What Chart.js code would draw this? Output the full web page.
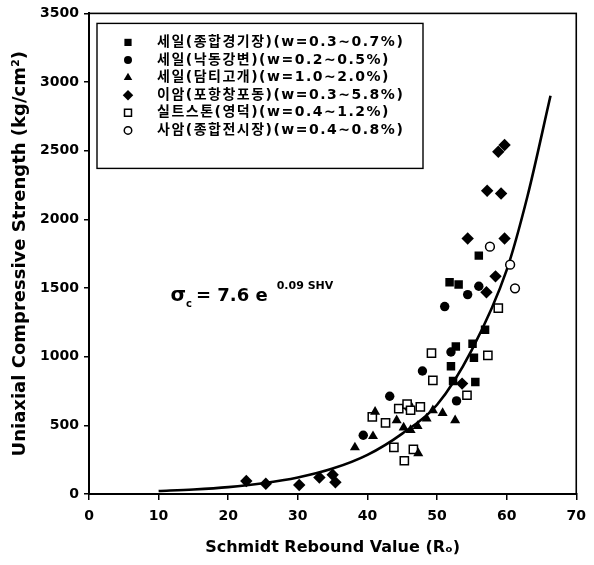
<!DOCTYPE html>
<html lang="ko">
<head>
<meta charset="UTF-8">
<title>Schmidt Rebound Value vs UCS</title>
<script src="https://cdn.jsdelivr.net/npm/chart.js"></script>
<style>
  html, body { margin: 0; padding: 0; background: #fff; }
</style>
</head>
<body>
<canvas id="chart" width="594" height="565"></canvas>
<script>
// rebound value (x) vs uniaxial compressive strength (y), kg/cm2
const shaleStadium = [[56.0,1736],[51.8,1542],[53.1,1525],[52.7,1075],[55.1,1094],[55.3,993],
                      [52.0,930],[56.9,1196],[52.3,823],[55.5,816]];
const shaleNakdong = [[54.4,1452],[51.1,1365],[56.0,1513],[52.0,1034],[47.9,896],[43.2,712],
                      [52.8,678],[39.4,428]];
const shaleDamti = [[38.2,339],[40.8,421],[41.1,598],[44.2,537],[45.2,484],[46.2,465],[47.2,494],
                    [48.5,550],[49.4,610],[50.8,590],[52.6,537],[47.3,296]];
const mudstone = [[59.7,2542],[58.8,2493],[57.2,2208],[59.2,2188],[54.4,1861],[59.7,1861],
                  [58.4,1585],[57.1,1469],[53.6,804],[22.6,95],[25.4,75],[30.2,65],[33.1,120],
                  [35.4,85],[35.0,140]];
const siltstone = [[58.8,1353],[49.2,1026],[49.4,828],[54.3,719],[57.3,1009],[44.5,622],[45.7,654],
                   [46.2,610],[47.6,634],[40.7,561],[42.6,518],[43.8,339],[46.6,325],[45.3,242]];
const sandstone = [[57.6,1801],[60.5,1670],[61.2,1498],[45.9,639]];

// fitted curve sigma_c = 7.6 e^(0.09 SHV)
const fitX = [10, 15, 20, 25, 30, 35, 40, 45, 50, 55, 60, 63, 66.3];
const fitY = [22, 33, 50, 78, 120, 185, 285, 440, 650, 1050, 1630, 2170, 2900];

const xTicks = [0, 10, 20, 30, 40, 50, 60, 70];
const yTicks = [0, 500, 1000, 1500, 2000, 2500, 3000, 3500];

const seriesLabels = [
  '세일(종합경기장)(w=0.3~0.7%)',
  '세일(낙동강변)(w=0.2~0.5%)',
  '세일(담티고개)(w=1.0~2.0%)',
  '이암(포항창포동)(w=0.3~5.8%)',
  '실트스톤(영덕)(w=0.4~1.2%)',
  '사암(종합전시장)(w=0.4~0.8%)'
];

const FONT = "'DejaVu Sans', 'Noto Sans CJK KR', sans-serif";
const toXY = arr => arr.map(p => ({ x: p[0], y: p[1] }));

function scatterSet(label, data, style, radius, filled) {
  return {
    type: 'scatter',
    label: label,
    data: toXY(data),
    pointStyle: style,
    pointRadius: radius,
    pointHoverRadius: radius,
    pointBackgroundColor: filled ? '#000' : '#fff',
    pointBorderColor: '#000',
    pointBorderWidth: filled ? 0 : 1.5
  };
}

const datasets = [
  scatterSet(seriesLabels[0], shaleStadium, 'rect', 6, true),
  scatterSet(seriesLabels[1], shaleNakdong, 'circle', 4.7, true),
  scatterSet(seriesLabels[2], shaleDamti, 'triangle', 5.8, true),
  scatterSet(seriesLabels[3], mudstone, 'rectRot', 6.2, true),
  scatterSet(seriesLabels[4], siltstone, 'rect', 5.8, false),
  scatterSet(seriesLabels[5], sandstone, 'circle', 4.4, false),
  {
    type: 'line',
    label: 'fit',
    data: fitX.map((x, i) => ({ x: x, y: fitY[i] })),
    borderColor: '#000',
    borderWidth: 2.6,
    pointRadius: 0,
    cubicInterpolationMode: 'monotone',
    fill: false
  }
];

// small marker drawer for the legend box
function marker(ctx, style, filled, x, y, r) {
  ctx.beginPath();
  if (style === 'rect') {
    const s = r * Math.SQRT1_2;
    ctx.rect(x - s, y - s, 2 * s, 2 * s);
  } else if (style === 'circle') {
    ctx.arc(x, y, r, 0, Math.PI * 2);
  } else if (style === 'triangle') {
    ctx.moveTo(x, y - r);
    ctx.lineTo(x + r * 0.866, y + r * 0.5);
    ctx.lineTo(x - r * 0.866, y + r * 0.5);
    ctx.closePath();
  } else if (style === 'rectRot') {
    ctx.moveTo(x, y - r);
    ctx.lineTo(x + r, y);
    ctx.lineTo(x, y + r);
    ctx.lineTo(x - r, y);
    ctx.closePath();
  }
  if (filled) {
    ctx.fillStyle = '#000';
    ctx.fill();
  } else {
    ctx.fillStyle = '#fff';
    ctx.fill();
    ctx.lineWidth = 1.5;
    ctx.strokeStyle = '#000';
    ctx.stroke();
  }
}

const decorations = {
  id: 'decorations',
  afterDraw(chart) {
    const ctx = chart.ctx;
    const area = chart.chartArea;
    const xs = chart.scales.x, ys = chart.scales.y;
    ctx.save();

    // plot frame
    ctx.strokeStyle = '#000';
    ctx.lineWidth = 1.6;
    ctx.strokeRect(area.left, area.top, area.right - area.left, area.bottom - area.top);

    // legend box
    const bx = area.left + 8, by = area.top + 10, bw = 326, bh = 145;
    ctx.lineWidth = 1.4;
    ctx.strokeRect(bx, by, bw, bh);
    ctx.font = 'bold 14px ' + FONT;
    ctx.textBaseline = 'middle';
    ctx.textAlign = 'left';
    ctx.letterSpacing = '1.5px';
    for (let i = 0; i < 6; i++) {
      const ds = chart.data.datasets[i];
      const cy = by + 19 + i * 17.6;
      marker(ctx, ds.pointStyle, ds.pointBorderWidth === 0, bx + 31, cy, ds.pointRadius * 0.85);
      ctx.fillStyle = '#000';
      ctx.fillText(ds.label, bx + 60, cy);
    }
    ctx.letterSpacing = '0px';

    // fitted equation
    let px = xs.getPixelForValue(11.7);
    const py = ys.getPixelForValue(1409);
    ctx.fillStyle = '#000';
    ctx.textBaseline = 'alphabetic';
    ctx.font = 'bold 20px ' + FONT;
    ctx.fillText('σ', px, py);
    px += ctx.measureText('σ').width;
    ctx.font = 'bold 10px ' + FONT;
    ctx.fillText('c', px, py + 6);
    px += ctx.measureText('c').width + 4;
    ctx.font = 'bold 18px ' + FONT;
    const main = '= 7.6 e';
    ctx.fillText(main, px, py);
    px += ctx.measureText(main).width + 9;
    ctx.font = 'bold 11px ' + FONT;
    ctx.fillText('0.09 SHV', px, py - 12);

    ctx.restore();
  }
};

new Chart(document.getElementById('chart'), {
  data: { datasets: datasets },
  options: {
    responsive: false,
    animation: false,
    layout: { padding: { top: 10, right: 8, left: 0, bottom: 0 } },
    plugins: { legend: { display: false }, tooltip: { enabled: false } },
    scales: {
      x: {
        type: 'linear',
        min: 0,
        max: 70,
        afterBuildTicks: s => { s.ticks = xTicks.map(v => ({ value: v })); },
        afterFit: s => { s.height = 71; },
        ticks: { color: '#000', padding: 8, callback: v => String(v),
                 font: { family: FONT, size: 14, weight: 'bold' } },
        grid: { drawOnChartArea: false, drawTicks: true, tickLength: 6, color: '#000', lineWidth: 1.5 },
        border: { display: true, color: '#000', width: 2 },
        title: {
          display: true,
          text: 'Schmidt Rebound Value (Rₒ)',
          color: '#000',
          font: { family: FONT, size: 16, weight: 'bold' },
          padding: { top: 0, bottom: 8 }
        }
      },
      y: {
        type: 'linear',
        min: 0,
        max: 3500,
        afterBuildTicks: s => { s.ticks = yTicks.map(v => ({ value: v })); },
        afterFit: s => { s.width = 89; },
        ticks: { color: '#000', padding: 5, callback: v => String(v),
                 font: { family: FONT, size: 14, weight: 'bold' } },
        grid: { drawOnChartArea: false, drawTicks: true, tickLength: 5, color: '#000', lineWidth: 1.5 },
        border: { display: true, color: '#000', width: 2 },
        title: {
          display: true,
          text: 'Uniaxial Compressive Strength (kg/cm²)',
          color: '#000',
          font: { family: FONT, size: 18, weight: 'bold' },
          padding: { top: 10, bottom: 0 }
        }
      }
    }
  },
  plugins: [decorations]
});
</script>
</body>
</html>
